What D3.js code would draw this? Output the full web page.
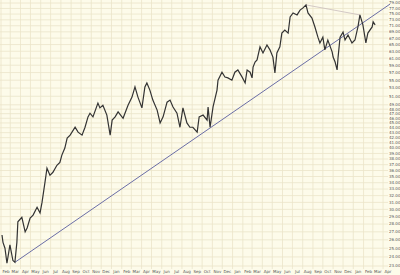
<!DOCTYPE html>
<html>
<head>
<meta charset="utf-8">
<script src="https://d3js.org/d3.v7.min.js"></script>
<style>
    body { margin: 0; background: #fdfbea; }
    svg { display: block; }
    .lbl { font-family: "DejaVu Sans", sans-serif; font-size: 4px; fill: #555; }
</style>
</head>
<body>
<svg width="400" height="275"></svg>
<script>
    var dates = ["2003-02-04","2003-02-07","2003-02-13","2003-02-19","2003-02-28","2003-03-09","2003-03-15","2003-03-21","2003-03-24","2003-04-05",
        "2003-04-15","2003-04-21","2003-04-30","2003-05-09","2003-05-21","2003-05-30","2003-06-05","2003-06-14","2003-06-20","2003-06-29",
        "2003-07-08","2003-07-20","2003-07-29","2003-08-04","2003-08-13","2003-08-20","2003-08-29","2003-09-13","2003-09-22","2003-10-04",
        "2003-10-13","2003-10-22","2003-10-28","2003-11-06","2003-11-21","2003-11-27","2003-12-06","2003-12-18","2003-12-28","2004-01-03",
        "2004-01-12","2004-01-21","2004-02-05","2004-02-20","2004-03-03","2004-03-12","2004-03-21","2004-04-02","2004-04-11","2004-04-17",
        "2004-04-26","2004-05-05","2004-05-18","2004-05-27","2004-06-05","2004-06-17","2004-06-26","2004-07-05","2004-07-17","2004-07-26",
        "2004-08-04","2004-08-16","2004-08-25","2004-09-03","2004-09-16","2004-09-22","2004-10-04","2004-10-16","2004-10-19","2004-10-25",
        "2004-11-03","2004-11-15","2004-11-18","2004-11-30","2004-12-09","2004-12-18","2004-12-30","2005-01-08","2005-01-17","2005-01-30",
        "2005-02-08","2005-02-14","2005-02-23","2005-03-01","2005-03-04","2005-03-10","2005-03-16","2005-03-25","2005-04-03","2005-04-15",
        "2005-04-24","2005-05-03","2005-05-09","2005-05-15","2005-05-24","2005-05-30","2005-06-08","2005-06-18","2005-06-24","2005-07-03",
        "2005-07-15","2005-07-24","2005-08-02","2005-08-11","2005-08-17","2005-08-29","2005-09-07","2005-09-16","2005-09-22","2005-10-01",
        "2005-10-07","2005-10-16","2005-10-29","2005-11-01","2005-11-07","2005-11-13","2005-11-16","2005-11-22","2005-12-01","2005-12-07",
        "2005-12-16","2005-12-28","2006-01-06","2006-01-15","2006-01-21","2006-01-30","2006-02-08","2006-02-14","2006-02-27","2006-03-02",
        "2006-03-08"];
    var closes = [26.6,25.7,25.0,23.3,25.4,23.6,23.4,25.7,28.3,28.9,
        27.0,27.5,28.8,29.2,30.3,29.5,31.0,34.1,36.4,35.2,
        35.7,36.9,37.4,38.7,40.0,41.9,42.5,44.1,43.1,42.5,
        44.1,46.3,47.1,46.3,49.4,48.3,48.9,46.7,42.5,45.6,
        46.3,47.4,46.0,48.9,50.8,53.3,50.8,48.3,53.3,54.3,
        52.5,50.1,47.8,45.0,46.3,49.6,50.1,48.5,47.1,44.1,
        48.3,45.0,44.1,44.1,43.1,46.3,46.7,45.6,48.5,44.1,
        48.5,52.5,55.0,57.1,55.8,55.6,55.0,57.1,57.7,55.8,
        54.3,57.7,57.1,55.6,58.5,59.9,60.5,64.3,62.5,64.9,
        63.4,61.3,56.9,62.5,64.3,68.6,69.6,68.6,74.0,75.4,
        74.7,76.4,77.2,78.3,75.4,73.6,70.6,67.3,65.5,67.3,
        63.4,66.4,62.8,61.3,59.9,57.7,61.3,67.3,68.9,66.4,
        68.0,65.5,66.4,70.6,74.7,71.3,65.5,68.6,70.6,72.3,
        71.3];

    // trend lines drawn on the chart
    var trendDates = ["2003-03-15", "2006-04-22"];
    var trendPrices = [23.4, 78.6];
    var topDates = ["2005-08-11", "2006-01-21"];
    var topPrices = [78.3, 74.7];

    var yTicks = [79,77,75,73,71,69,67,65,63,61,59,57,55,53,51,49,48,47,46,45,44,43,42,41,40,
        39,38,37,36,35,34,33,32,31,30,29,28,27,26,25,24,23];

    var parse = d3.timeParse("%Y-%m-%d");
    var svg = d3.select("svg");
    var plotR = 388, plotB = 269;

    var x = d3.scaleTime()
        .domain([new Date(2003, 1, 1), new Date(2006, 4, 1)])
        .range([1, 393]);
    var y = d3.scaleLog()
        .domain([23, 79])
        .range([266, 3]);

    var grid = svg.append("g").attr("stroke", "#ebe5c9").attr("stroke-width", 0.8);
    var months = d3.timeMonth.range(new Date(2003, 1, 1), new Date(2006, 4, 1));

    grid.selectAll(".v").data(months).enter().append("line")
        .attr("x1", function(d) { return x(d); })
        .attr("x2", function(d) { return x(d); })
        .attr("y1", 0).attr("y2", plotB);
    grid.selectAll(".h").data(yTicks).enter().append("line")
        .attr("x1", 0).attr("x2", plotR)
        .attr("y1", function(d) { return y(d); })
        .attr("y2", function(d) { return y(d); });

    // month labels
    svg.append("g").selectAll("text").data(months).enter().append("text")
        .attr("class", "lbl")
        .attr("x", function(d) { return x(d3.timeDay.offset(d, 15)); })
        .attr("y", 273)
        .attr("text-anchor", "middle")
        .text(d3.timeFormat("%b"));

    // price labels
    svg.append("g").selectAll("text").data(yTicks).enter().append("text")
        .attr("class", "lbl")
        .attr("x", 389)
        .attr("y", function(d) { return y(d) + 1.4; })
        .text(function(d) { return d.toFixed(2); });

    var line = d3.line()
        .x(function(d) { return x(parse(d[0])); })
        .y(function(d) { return y(d[1]); });

    svg.append("path")
        .datum(d3.zip(topDates, topPrices))
        .attr("fill", "none")
        .attr("stroke", "#c9bcbc")
        .attr("stroke-width", 0.8)
        .attr("d", line);

    svg.append("path")
        .datum(d3.zip(trendDates, trendPrices))
        .attr("fill", "none")
        .attr("stroke", "#6b6ea6")
        .attr("stroke-width", 1)
        .attr("d", line);

    svg.append("path")
        .datum(d3.zip(dates, closes))
        .attr("fill", "none")
        .attr("stroke", "#333")
        .attr("stroke-width", 1.2)
        .attr("stroke-linejoin", "miter")
        .attr("d", line);
</script>
</body>
</html>
